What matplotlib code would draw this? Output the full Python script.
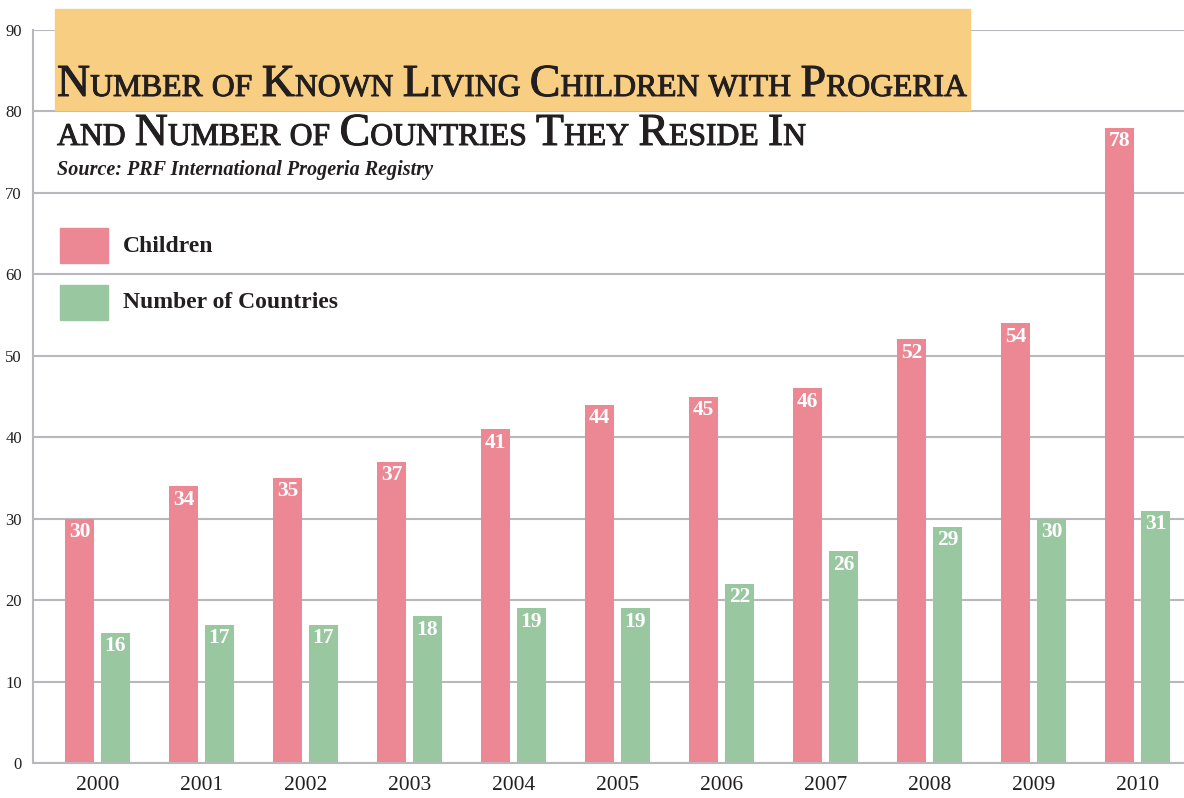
import matplotlib
matplotlib.use("Agg")
import matplotlib.pyplot as plt
import matplotlib.patches as patches
import matplotlib.patheffects as pe
import numpy as np

years = ["2000", "2001", "2002", "2003", "2004", "2005",
         "2006", "2007", "2008", "2009", "2010"]
children = [30, 34, 35, 37, 41, 44, 45, 46, 52, 54, 78]
countries = [16, 17, 17, 18, 19, 19, 22, 26, 29, 30, 31]
y_ticks = [0, 10, 20, 30, 40, 50, 60, 70, 80, 90]

PINK = "#ec8794"
GREEN = "#98c7a0"
ORANGE = "#f8cf82"
INK = "#231f20"
GRID = "#b8b8bc"
SERIF = ["Liberation Serif", "DejaVu Serif"]

W, H = 1184, 798
fig = plt.figure(figsize=(W / 100, H / 100), dpi=100)
ax = fig.add_axes([33 / W, 35 / H, 1 - 33 / W, (763 - 30) / H])

x = np.arange(len(years))
bw = 0.279
off = 0.173
ax.bar(x - off, children, bw, color=PINK, zorder=3)
ax.bar(x + off, countries, bw, color=GREEN, zorder=3)

for xi, c, n in zip(x, children, countries):
    for xx, v in ((xi - off, c), (xi + off, n)):
        ax.annotate(str(v), (xx, v), xytext=(0, -2.5), textcoords="offset points",
                    ha="center", va="top", color="white", fontsize=15.5,
                    fontweight="bold", family=SERIF, zorder=4)

ax.set_xlim(-0.62, 10.447)
ax.set_ylim(0, 90)
ax.set_yticks(y_ticks)
ax.set_yticklabels([str(t) for t in y_ticks], family=SERIF, fontsize=12, color=INK)
ax.set_xticks(x)
ax.set_xticklabels(years, family=SERIF, fontsize=15.5, color=INK)
ax.tick_params(axis="both", length=0)
ax.tick_params(axis="y", pad=8)
ax.tick_params(axis="x", pad=9)
ax.yaxis.grid(True, color=GRID, linewidth=1.5, zorder=1)
ax.set_axisbelow(True)
for s in ("top", "right"):
    ax.spines[s].set_visible(False)
for s in ("left", "bottom"):
    ax.spines[s].set_color(GRID)
    ax.spines[s].set_linewidth(1.5)
ax.spines["bottom"].set_zorder(5)

# orange title band
fig.patches.append(patches.Rectangle((55 / W, 1 - 110 / H), (970 - 55) / W, (110 - 9) / H,
                                     transform=fig.transFigure, color=ORANGE, zorder=5))

renderer = fig.canvas.get_renderer()
heavy = [pe.withStroke(linewidth=0.7, foreground=INK)]


def small_caps(px, py, text, big, small):
    cur = px
    for word in text.split(" "):
        runs = []
        for ch in word:
            up = ch.isupper()
            if runs and runs[-1][0] == up:
                runs[-1][1] += ch
            else:
                runs.append([up, ch])
        for up, s in runs:
            t = fig.text(cur / W, 1 - py / H, s.upper(), fontsize=big if up else small,
                         family=SERIF, color=INK, ha="left", va="baseline", zorder=6,
                         path_effects=heavy)
            cur += t.get_window_extent(renderer).width
        cur += small * 0.42


small_caps(57, 96, "Number of Known Living Children with Progeria", 33, 22.8)
small_caps(57, 145, "and Number of Countries They Reside In", 33, 22.8)
fig.text(57 / W, 1 - 175 / H, "Source: PRF International Progeria Registry",
         fontsize=14.5, fontweight="bold", fontstyle="italic", family=SERIF,
         color=INK, ha="left", va="baseline", zorder=6)

# legend
for (label, col, top) in (("Children", PINK, 228), ("Number of Countries", GREEN, 285)):
    fig.patches.append(patches.Rectangle((60 / W, 1 - (top + 35) / H), 48 / W, 35 / H,
                                         transform=fig.transFigure, color=col, zorder=6))
    fig.text(123 / W, 1 - (top + 18) / H, label, fontsize=17, fontweight="bold",
             family=SERIF, color=INK, ha="left", va="center", zorder=6)

fig.savefig("out.png", dpi=100)
